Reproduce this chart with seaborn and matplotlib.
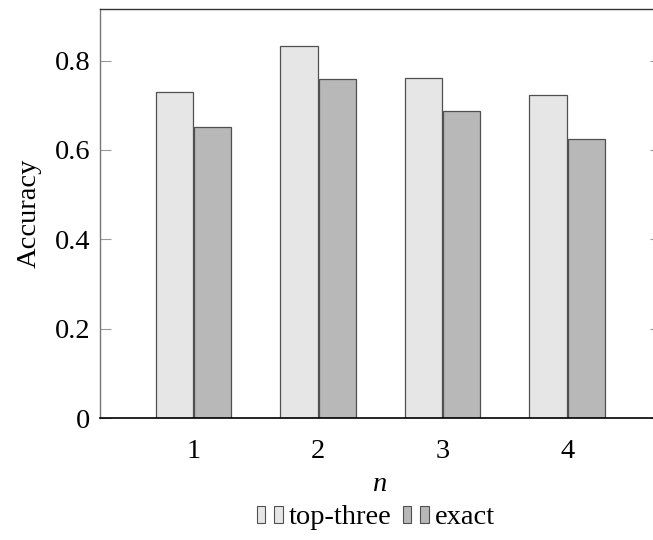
import numpy as np
import pandas as pd
import matplotlib
matplotlib.use("Agg")
import matplotlib.pyplot as plt
import seaborn as sns
from matplotlib.patches import Rectangle
from matplotlib.legend_handler import HandlerBase

# ========== DATA ==========
n_values = ["1", "2", "3", "4"]
top_three = [0.729, 0.833, 0.761, 0.723]
exact = [0.652, 0.759, 0.688, 0.625]
series_names = ["top-three", "exact"]
series_colors = ["#e6e6e6", "#b8b8b8"]
y_ticks = [0, 0.2, 0.4, 0.6, 0.8]

df = pd.DataFrame({
    "n": n_values * 2,
    "Accuracy": top_three + exact,
    "series": [series_names[0]] * len(n_values) + [series_names[1]] * len(n_values),
})

EDGE = "#505050"
FS = 20.5


class TwoBarHandler(HandlerBase):
    """pgfplots-style ybar legend image: two small bars."""

    def create_artists(self, legend, orig_handle, xdescent, ydescent,
                       width, height, fontsize, trans):
        fc = orig_handle.get_facecolor()
        w = width * 0.32
        arts = []
        for x0 in (-xdescent, -xdescent + width - w):
            r = Rectangle((x0, -ydescent), w, height, facecolor=fc,
                          edgecolor=EDGE, linewidth=0.8, transform=trans)
            arts.append(r)
        return arts


sns.set_theme(style="white")
plt.rcParams["font.family"] = ["Liberation Serif", "DejaVu Serif"]
plt.rcParams["text.color"] = "black"
plt.rcParams["axes.labelcolor"] = "black"

fig = plt.figure(figsize=(6.53, 5.40), dpi=100)
ax = fig.add_axes([100 / 653, 1 - 418 / 540, 560.6 / 653, 409.3 / 540])

sns.barplot(data=df, x="n", y="Accuracy", hue="series", hue_order=series_names,
            palette=series_colors, width=0.616, gap=0.026, edgecolor=EDGE,
            linewidth=0.9, saturation=1, errorbar=None, ax=ax)

ax.set_xlim(-0.75, 3.75)
ax.set_ylim(0, 0.916)
ax.set_yticks(y_ticks)
ax.set_yticklabels(["0" if v == 0 else f"{v:.1f}" for v in y_ticks])
ax.tick_params(axis="y", direction="in", left=True, right=True, length=8,
               width=0.8, color="#9a9a9a", labelcolor="black", labelsize=FS, pad=7)
ax.tick_params(axis="x", length=0, labelsize=FS, labelcolor="black", pad=15)

ax.set_ylabel("Accuracy", fontsize=FS, labelpad=9)
ax.set_xlabel("n", fontsize=FS, style="italic", labelpad=6)

for side in ["top", "right", "bottom", "left"]:
    ax.spines[side].set_visible(True)
ax.spines["bottom"].set_color("black")
ax.spines["bottom"].set_linewidth(1.2)
ax.spines["top"].set_color("#333333")
ax.spines["top"].set_linewidth(1.0)
ax.spines["left"].set_color("#777777")
ax.spines["left"].set_linewidth(1.0)
ax.spines["right"].set_color("#333333")

if ax.get_legend() is not None:
    ax.get_legend().remove()

handles = [Rectangle((0, 0), 1, 1, facecolor=c) for c in series_colors]
fig.legend(handles, series_names, loc="center", bbox_to_anchor=(376 / 653, 1 - 518 / 540),
           ncol=2, frameon=False, fontsize=FS, handlelength=0.9, handleheight=0.58,
           handletextpad=0.22, columnspacing=0.4, borderpad=0.1,
           handler_map={h: TwoBarHandler() for h in handles})

fig.savefig("out.png", dpi=100)
plt.close(fig)
